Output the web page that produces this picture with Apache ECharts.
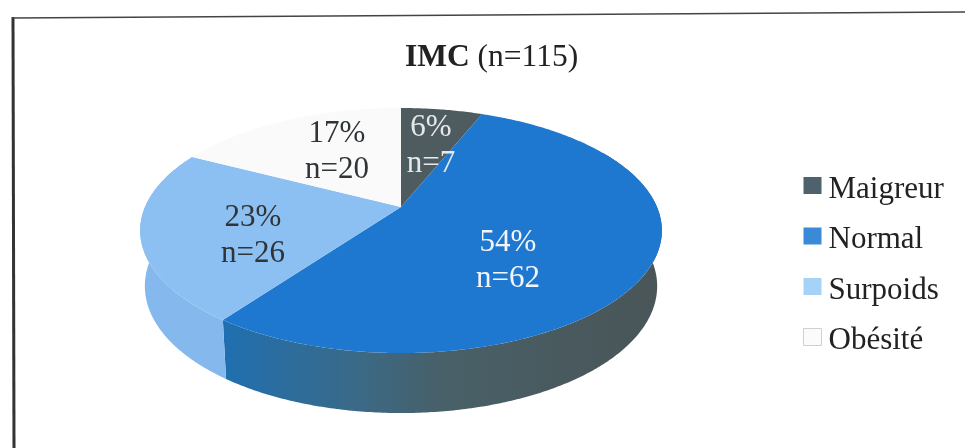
<!DOCTYPE html>
<html>
<head>
    <meta charset="utf-8">
    <title>IMC (n=115)</title>
    <script src="https://cdn.jsdelivr.net/npm/echarts@6/dist/echarts.min.js"></script>
    <style>
        body, html { margin: 0; padding: 0; width: 100%; height: 100%; overflow: hidden; background: #fff; }
        #main { width: 965px; height: 448px; }
    </style>
</head>
<body>
    <div id="main"></div>
    <script>
        // valeurs
        const categories = ['Maigreur', 'Normal', 'Surpoids', 'Obésité'];
        const counts = [7, 62, 26, 20];
        const percents = ['6%', '54%', '23%', '17%'];

        const serif = '"Liberation Serif", "Times New Roman", serif';
        const topColors = ['#4e5c60', '#1f78cf', '#8dc0f2', '#fafafb'];
        const labelColors = ['#e4e8ea', '#f2f6fb', '#2f3436', '#2f3436'];
        const swatches = ['#4d626c', '#3a8ad8', '#a6d2f7', '#fbfbfb'];
        const labelPoints = [[431, 146], [508, 261], [253, 236], [337, 152]];

        // parois du camembert 3D
        const wallColors = [
            null,
            { type: 'linear', x: 0, y: 0, x2: 1, y2: 0, colorStops: [
                { offset: 0, color: '#1f6fb0' }, { offset: 0.3, color: '#3a6a88' },
                { offset: 0.5, color: '#486068' }, { offset: 1, color: '#4a5557' }
            ] },
            '#85b9ee',
            null
        ];

        // projection en perspective du disque : theta part du haut, sens horaire
        const cx = 401, cy = 207, ax = 256, ay = 118, persp = 0.192, depth = 60;
        function project(theta) {
            const u = Math.sin(theta), v = -Math.cos(theta);
            const d = 1 - persp * v;
            return [cx + ax * u / d, cy + ay * v / d];
        }
        function lowerRim(theta) {
            const p = project(theta), v = -Math.cos(theta);
            return [cx + (p[0] - cx) * 0.982, p[1] + depth * (1 + 0.1 * v) / 1.1];
        }
        function arc(fn, a0, a1) {
            const n = Math.max(2, Math.ceil(Math.abs(a1 - a0) / 0.01));
            const pts = [];
            for (let i = 0; i <= n; i++) pts.push(fn(a0 + (a1 - a0) * i / n));
            return pts;
        }

        const total = counts.reduce((a, b) => a + b, 0);
        const wallFrom = Math.PI / 3, wallTo = Math.PI * 5 / 3;

        function makeRender(index) {
            return function (params, api) {
                const before = counts.slice(0, index).reduce((a, b) => a + b, 0);
                const a0 = before / total * 2 * Math.PI;
                const a1 = (before + api.value(0)) / total * 2 * Math.PI;
                const children = [];
                const w0 = Math.max(a0, wallFrom), w1 = Math.min(a1, wallTo);
                if (wallColors[index] && w1 > w0) {
                    children.push({
                        type: 'polygon',
                        shape: { points: arc(project, w0, w1).concat(arc(lowerRim, w1, w0)) },
                        style: { fill: wallColors[index] }
                    });
                }
                children.push({
                    type: 'polygon',
                    shape: { points: [[cx, cy]].concat(arc(project, a0, a1)) },
                    style: { fill: topColors[index] }
                });
                children.push({
                    type: 'text',
                    z2: 10,
                    style: {
                        text: percents[index] + '\nn=' + api.value(0),
                        x: labelPoints[index][0],
                        y: labelPoints[index][1],
                        align: 'center',
                        verticalAlign: 'middle',
                        fill: labelColors[index],
                        font: '31px ' + serif,
                        lineHeight: 36
                    }
                });
                return { type: 'group', children: children };
            };
        }

        const myChart = echarts.init(document.getElementById('main'));
        myChart.setOption({
            animation: false,
            backgroundColor: '#fff',
            title: {
                text: '{b|IMC} (n=115)',
                left: 405,
                top: 42,
                padding: 0,
                textStyle: {
                    fontFamily: serif, fontSize: 31.5, fontWeight: 'normal', color: '#222',
                    rich: { b: { fontFamily: serif, fontSize: 31.5, fontWeight: 'bold', color: '#222' } }
                }
            },
            legend: {
                orient: 'vertical',
                left: 803,
                top: 166,
                padding: 0,
                itemWidth: 18,
                itemHeight: 17,
                itemGap: 11.5,
                icon: 'rect',
                formatter: '{a|{name}}',
                textStyle: {
                    rich: { a: { fontFamily: serif, fontSize: 31, color: '#222', lineHeight: 34, padding: [8, 0, 0, 2] } }
                },
                data: categories.map((name, i) => ({
                    name: name,
                    itemStyle: i === 3
                        ? { color: swatches[i], borderColor: '#d0d0d0', borderWidth: 1 }
                        : { color: swatches[i] }
                }))
            },
            series: categories.map((name, i) => ({
                type: 'custom',
                name: name,
                coordinateSystem: 'none',
                itemStyle: { color: swatches[i] },
                renderItem: makeRender(i),
                data: [[counts[i]]]
            })),
            graphic: [{
                type: 'polyline',
                silent: true,
                shape: { points: [[14, 448], [13, 17]] },
                style: { stroke: '#333', lineWidth: 3, fill: null }
            }, {
                type: 'polyline',
                silent: true,
                shape: { points: [[12, 18], [965, 12]] },
                style: { stroke: '#444', lineWidth: 1.5, fill: null }
            }]
        });
    </script>
</body>
</html>
